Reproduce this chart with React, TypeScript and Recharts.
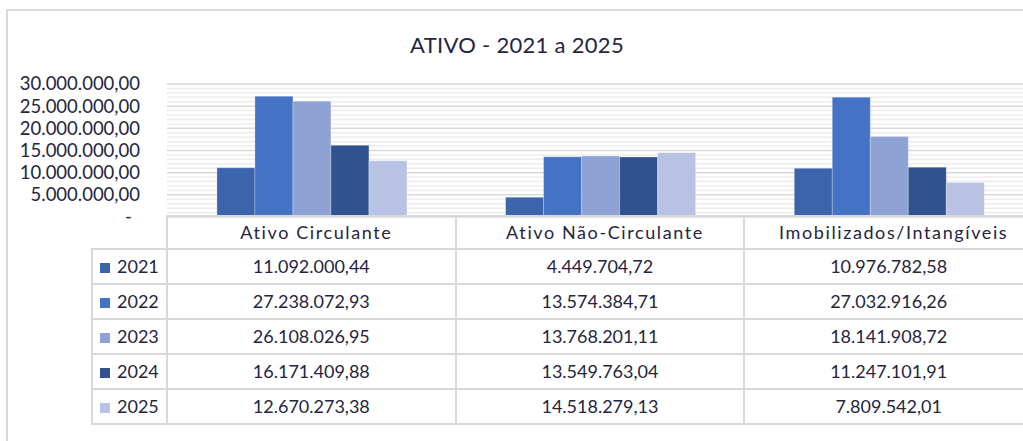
import React from "react";
import { BarChart, Bar, XAxis, YAxis, CartesianGrid } from "recharts";

const categories = ["Ativo Circulante", "Ativo Não-Circulante", "Imobilizados/Intangíveis"];
const years = ["2021", "2022", "2023", "2024", "2025"];
const v2021 = [11092000.44, 4449704.72, 10976782.58];
const v2022 = [27238072.93, 13574384.71, 27032916.26];
const v2023 = [26108026.95, 13768201.11, 18141908.72];
const v2024 = [16171409.88, 13549763.04, 11247101.91];
const v2025 = [12670273.38, 14518279.13, 7809542.01];
const yTicks = [0, 5000000, 10000000, 15000000, 20000000, 25000000, 30000000];
const minorTicks = [1000000, 2000000, 3000000, 4000000, 6000000, 7000000, 8000000, 9000000, 11000000, 12000000, 13000000, 14000000, 16000000, 17000000, 18000000, 19000000, 21000000, 22000000, 23000000, 24000000, 26000000, 27000000, 28000000, 29000000];
const colors = ["#3B64AD", "#4472C4", "#8FA2D4", "#30528F", "#B8C3E3"];

const series = [v2021, v2022, v2023, v2024, v2025];
const data = categories.map((c, i) => {
  const row: Record<string, any> = { name: c };
  years.forEach((y, j) => {
    row["y" + y] = series[j][i];
  });
  return row;
});

function fmt(v: number): string {
  const neg = v < 0;
  const abs = Math.abs(v);
  const fixed = abs.toFixed(2);
  const [ip, dp] = fixed.split(".");
  const withDots = ip.replace(/\B(?=(\d{3})+(?!\d))/g, ".");
  return (neg ? "-" : "") + withDots + "," + dp;
}

const FONT = "Lato, 'Open Sans', sans-serif";
const TEXT = "#252540";
const LINE = "#d9d9d9";

const PLOT_LEFT = 167;
const PLOT_TOP = 84;
const PLOT_BOTTOM = 217;
const CAT_W = 288.67;
const HEADER_TOP = 216;
const ROW_TOPS = [249, 284, 319, 354, 389];
const ROW_H = 35;
const LEGEND_LEFT = 92;

const YTick = (props: any) => {
  const { x, y, payload } = props;
  const isZero = payload.value === 0;
  return (
    <text
      x={isZero ? x - 8 : x}
      y={y}
      dy="0.35em"
      textAnchor="end"
      fontFamily={FONT}
      fontSize={18.5}
      fill={TEXT}
    >
      {isZero ? "-" : fmt(payload.value)}
    </text>
  );
};

export default function App() {
  const chartWidth = PLOT_LEFT + CAT_W * 3 + 7;
  const tableRight = PLOT_LEFT + CAT_W * 3;
  const hLines: React.ReactNode[] = [];
  hLines.push(
    <div key="hh" style={{ position: "absolute", left: PLOT_LEFT - 1, top: HEADER_TOP - 1, width: tableRight - PLOT_LEFT + 2, height: 2, background: LINE }} />
  );
  [...ROW_TOPS, ROW_TOPS[ROW_TOPS.length - 1] + ROW_H].forEach((t, i) => {
    hLines.push(
      <div key={"h" + i} style={{ position: "absolute", left: LEGEND_LEFT - 1, top: t - 1, width: tableRight - LEGEND_LEFT + 2, height: 2, background: LINE }} />
    );
  });
  const bottom = ROW_TOPS[ROW_TOPS.length - 1] + ROW_H;
  const vLines: React.ReactNode[] = [];
  vLines.push(
    <div key="vl" style={{ position: "absolute", left: LEGEND_LEFT - 1, top: ROW_TOPS[0] - 1, width: 2, height: bottom - ROW_TOPS[0] + 2, background: LINE }} />
  );
  for (let i = 0; i <= 3; i++) {
    vLines.push(
      <div key={"v" + i} style={{ position: "absolute", left: PLOT_LEFT + CAT_W * i - 1, top: HEADER_TOP - 1, width: 2, height: bottom - HEADER_TOP + 2, background: LINE }} />
    );
  }

  return (
    <div style={{ position: "fixed", left: 0, top: 0, width: 1023, height: 441, overflow: "hidden", background: "#ffffff" }}>
      {/* frame */}
      <div style={{ position: "absolute", left: 6, top: 9, width: 1100, height: 500, borderLeft: `2px solid ${LINE}`, borderTop: `2px solid ${LINE}` }} />
      {/* title */}
      <div style={{ position: "absolute", left: 0, top: 30, width: 1034, textAlign: "center", fontFamily: FONT, fontSize: 22, color: TEXT, lineHeight: "30px", letterSpacing: 0.3 }}>
        ATIVO - 2021 a 2025
      </div>
      <div style={{ position: "absolute", left: 0, top: 0 }}>
        <BarChart
          width={chartWidth}
          height={441}
          data={data}
          margin={{ top: PLOT_TOP, right: 7, bottom: 441 - PLOT_BOTTOM, left: 7 }}
          barCategoryGap="17.3%"
          barGap={0}
        >
          <CartesianGrid vertical={false} horizontalValues={minorTicks} stroke="#ececec" strokeWidth={1.5} />
          <CartesianGrid vertical={false} horizontalValues={yTicks} stroke="#d9d9d9" strokeWidth={1.5} />
          <XAxis dataKey="name" hide height={0} />
          <YAxis
            domain={[0, 30000000]}
            ticks={yTicks}
            width={PLOT_LEFT - 7}
            axisLine={false}
            tickLine={false}
            tickSize={0}
            tickMargin={27}
            tick={<YTick />}
            interval={0}
            allowDataOverflow
          />
          {years.map((y, j) => (
            <Bar key={y} dataKey={"y" + y} name={y} fill={colors[j]} stroke="#ffffff" strokeOpacity={0.35} strokeWidth={0.75} isAnimationActive={false} />
          ))}
        </BarChart>
      </div>
      {/* data table */}
      {categories.map((c, i) => (
        <div key={"hdr" + i} style={{ position: "absolute", left: PLOT_LEFT + CAT_W * i + 5, top: HEADER_TOP, width: CAT_W, height: ROW_TOPS[0] - HEADER_TOP, lineHeight: ROW_TOPS[0] - HEADER_TOP + "px", textAlign: "center", fontFamily: FONT, fontSize: 18, color: TEXT, letterSpacing: 1.6, whiteSpace: "nowrap" }}>
          {c}
        </div>
      ))}
      {years.map((y, j) => (
        <React.Fragment key={"row" + y}>
          <div style={{ position: "absolute", left: 100, top: ROW_TOPS[j] + 14, width: 10, height: 10, background: colors[j] }} />
          <div style={{ position: "absolute", left: 117, top: ROW_TOPS[j], height: ROW_H, lineHeight: ROW_H + "px", fontFamily: FONT, fontSize: 18, color: TEXT }}>
            {y}
          </div>
          {categories.map((c, i) => (
            <div key={c} style={{ position: "absolute", left: PLOT_LEFT + CAT_W * i, top: ROW_TOPS[j], width: CAT_W, height: ROW_H, lineHeight: ROW_H + "px", textAlign: "center", fontFamily: FONT, fontSize: 18, color: TEXT, whiteSpace: "nowrap" }}>
              {fmt(series[j][i])}
            </div>
          ))}
        </React.Fragment>
      ))}
      {hLines}
      {vLines}
    </div>
  );
}
